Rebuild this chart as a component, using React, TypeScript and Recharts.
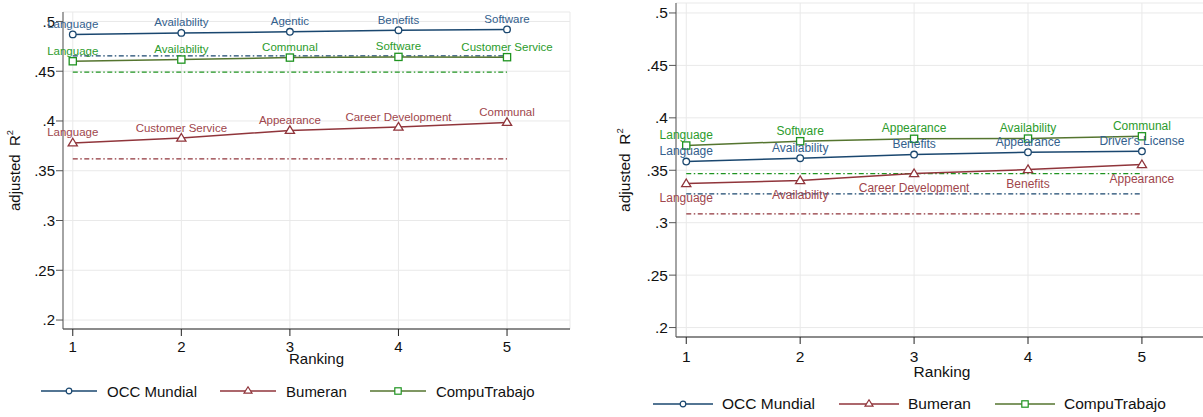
import { CartesianGrid, LabelList, Legend, Line, LineChart, XAxis, YAxis } from "recharts";

const FONT = "'Liberation Sans', Arial, Helvetica, sans-serif";

const NAVY = "#1a476f";
const NAVY_TXT = "#33608d";
const MAROON = "#90353b";
const MAROON_TXT = "#a0464c";
const OLIVE = "#55752f";
const GREEN = "#1f9420";
const GREEN_TXT = "#2c9c2c";

const ranking = [1, 2, 3, 4, 5];
const yTicks = [0.2, 0.25, 0.3, 0.35, 0.4, 0.45, 0.5];
const seriesNames = ["OCC Mundial", "Bumeran", "CompuTrabajo"];

// left panel
const occLeft = [0.487, 0.4885, 0.4896, 0.4912, 0.492];
const bumLeft = [0.378, 0.3828, 0.3905, 0.3939, 0.3986];
const compLeft = [0.46, 0.4617, 0.4637, 0.4644, 0.4641];
const occLeftLabels = ["Language", "Availability", "Agentic", "Benefits", "Software"];
const bumLeftLabels = ["Language", "Customer Service", "Appearance", "Career Development", "Communal"];
const compLeftLabels = ["Language", "Availability", "Communal", "Software", "Customer Service"];
const occLeftBase = 0.4654;
const bumLeftBase = 0.362;
const compLeftBase = 0.449;

// right panel
const occRight = [0.3583, 0.3615, 0.365, 0.3672, 0.3681];
const bumRight = [0.3373, 0.3402, 0.3468, 0.3507, 0.3554];
const compRight = [0.3736, 0.3777, 0.38, 0.3802, 0.3824];
const occRightLabels = ["Language", "Availability", "Benefits", "Appearance", "Driver's License"];
const bumRightLabels = ["Language", "Availability", "Career Development", "Benefits", "Appearance"];
const compRightLabels = ["Language", "Software", "Appearance", "Availability", "Communal"];
const occRightBase = 0.3275;
const bumRightBase = 0.3084;
const compRightBase = 0.3468;

function buildRows(
  occ: number[], bum: number[], comp: number[],
  occLab: string[], bumLab: string[], compLab: string[],
  occBase: number, bumBase: number, compBase: number
) {
  return ranking.map((r, i) => ({
    rank: r,
    occ: occ[i], bum: bum[i], comp: comp[i],
    occLabel: occLab[i], bumLabel: bumLab[i], compLabel: compLab[i],
    occBase, bumBase, compBase,
  }));
}

const leftRows = buildRows(occLeft, bumLeft, compLeft, occLeftLabels, bumLeftLabels, compLeftLabels, occLeftBase, bumLeftBase, compLeftBase);
const rightRows = buildRows(occRight, bumRight, compRight, occRightLabels, bumRightLabels, compRightLabels, occRightBase, bumRightBase, compRightBase);

const fmt = (v: number) => String(v).replace(/^0/, "");
const DASHDOT = "5 2.5 1.5 2.5";

const circleDot = (color: string) => (p: any) => (
  <circle key={`c-${p.index}`} cx={p.cx} cy={p.cy} r={3.3} fill="#fff" stroke={color} strokeWidth={1.3} />
);
const triangleDot = (color: string) => (p: any) => (
  <path
    key={`t-${p.index}`}
    d={`M${p.cx},${p.cy - 4.6} L${p.cx + 4.6},${p.cy + 3} L${p.cx - 4.6},${p.cy + 3} Z`}
    fill="#fff"
    stroke={color}
    strokeWidth={1.3}
  />
);
const squareDot = (color: string) => (p: any) => (
  <rect key={`s-${p.index}`} x={p.cx - 3.6} y={p.cy - 3.6} width={7.2} height={7.2} fill="#fff" stroke={color} strokeWidth={1.3} />
);

const pointLabel = (color: string, size: number, dy: number) => (props: any) => {
  const x = props.x ?? props.viewBox?.x;
  const y = props.y ?? props.viewBox?.y;
  if (props.value == null || x == null) return null;
  return (
    <text x={x} y={y + dy} textAnchor="middle" fill={color} fontSize={size} fontFamily={FONT}>
      {props.value}
    </text>
  );
};

const yTitle = (cx: number, size: number) => (props: any) => {
  const vb = props.viewBox;
  const cy = vb.y + vb.height / 2;
  return (
    <text
      transform={`translate(${cx},${cy}) rotate(-90)`}
      textAnchor="middle"
      fontSize={size}
      fontFamily={FONT}
      fill="#111"
      style={{ whiteSpace: "pre" }}
    >
      {"adjusted  R"}
      <tspan dy={-7} fontSize={size * 0.62}>2</tspan>
    </text>
  );
};

const xTitle = (dy: number, size: number) => (props: any) => {
  const vb = props.viewBox;
  return (
    <text x={vb.x + vb.width / 2} y={vb.y + dy} textAnchor="middle" fontSize={size} fontFamily={FONT} fill="#111">
      Ranking
    </text>
  );
};

const legendSample = (i: number, w: number) => {
  const c = w / 2;
  if (i === 0)
    return (
      <svg width={w} height={12}>
        <line x1={0} y1={6} x2={w} y2={6} stroke={NAVY} strokeWidth={1.5} />
        <circle cx={c} cy={6} r={2.8} fill="#fff" stroke={NAVY} strokeWidth={1.2} />
      </svg>
    );
  if (i === 1)
    return (
      <svg width={w} height={12}>
        <line x1={0} y1={6} x2={w} y2={6} stroke={MAROON} strokeWidth={1.5} />
        <path d={`M${c},${1.8} L${c + 4},${8.2} L${c - 4},${8.2} Z`} fill="#fff" stroke={MAROON} strokeWidth={1.2} />
      </svg>
    );
  return (
    <svg width={w} height={12}>
      <line x1={0} y1={6} x2={w} y2={6} stroke={OLIVE} strokeWidth={1.5} />
      <rect x={c - 3.2} y={2.8} width={6.4} height={6.4} fill="#fff" stroke={GREEN} strokeWidth={1.2} />
    </svg>
  );
};

const legendContent = (start: number, sample: number, gap: number, spacing: number, size: number) => () => (
  <div style={{ display: "flex", alignItems: "center", height: 20, paddingLeft: start, fontFamily: FONT, fontSize: size, color: "#111" }}>
    {seriesNames.map((name, i) => (
      <div key={name} style={{ display: "flex", alignItems: "center", marginRight: spacing }}>
        {legendSample(i, sample)}
        <span style={{ marginLeft: gap, whiteSpace: "nowrap" }}>{name}</span>
      </div>
    ))}
  </div>
);

function Panel({
  rows, width, margin, yAxisWidth, xTickMargin, fontSize, labelSize, titleX, rankingDy,
  bumBelow, legendTop, legend,
}: {
  rows: any[]; width: number; margin: any; yAxisWidth: number; xTickMargin: number; fontSize: number;
  labelSize: number; titleX: number; rankingDy: number; bumBelow: boolean; legendTop: number;
  legend: { start: number; sample: number; gap: number; spacing: number };
}) {
  const tick = { fill: "#111", fontSize, fontFamily: FONT };
  return (
    <LineChart width={width} height={417} data={rows} margin={margin}>
      <CartesianGrid stroke="#e9e9e9" strokeWidth={1} />
      <XAxis
        dataKey="rank"
        type="number"
        domain={[0.91, 5.58]}
        ticks={ranking}
        allowDataOverflow
        height={40}
        tick={tick}
        tickSize={7}
        tickMargin={xTickMargin}
        stroke="#222"
        label={{ content: xTitle(rankingDy, fontSize) }}
      />
      <YAxis
        type="number"
        domain={[0.191, 0.5095]}
        ticks={yTicks}
        allowDataOverflow
        width={yAxisWidth}
        tick={tick}
        tickFormatter={fmt}
        tickSize={7}
        tickMargin={1}
        stroke="#555"
        label={{ content: yTitle(titleX, fontSize) }}
      />
      <Line dataKey="occBase" stroke={NAVY} strokeWidth={1.3} strokeDasharray={DASHDOT} dot={false} activeDot={false} isAnimationActive={false} />
      <Line dataKey="bumBase" stroke={MAROON} strokeWidth={1.3} strokeDasharray={DASHDOT} dot={false} activeDot={false} isAnimationActive={false} />
      <Line dataKey="compBase" stroke={GREEN} strokeWidth={1.3} strokeDasharray={DASHDOT} dot={false} activeDot={false} isAnimationActive={false} />
      <Line dataKey="occ" stroke={NAVY} strokeWidth={1.5} dot={circleDot(NAVY)} activeDot={false} isAnimationActive={false}>
        <LabelList dataKey="occLabel" content={pointLabel(NAVY_TXT, labelSize, -6.5)} />
      </Line>
      <Line dataKey="bum" stroke={MAROON} strokeWidth={1.5} dot={triangleDot(MAROON)} activeDot={false} isAnimationActive={false}>
        <LabelList dataKey="bumLabel" content={pointLabel(MAROON_TXT, labelSize, bumBelow ? 18 : -6.5)} />
      </Line>
      <Line dataKey="comp" stroke={OLIVE} strokeWidth={1.5} dot={squareDot(GREEN)} activeDot={false} isAnimationActive={false}>
        <LabelList dataKey="compLabel" content={pointLabel(GREEN_TXT, labelSize, -6.5)} />
      </Line>
      <Legend
        layout="horizontal"
        verticalAlign="middle"
        align="center"
        wrapperStyle={{ top: legendTop, left: 0, width, height: 20 }}
        content={legendContent(legend.start, legend.sample, legend.gap, legend.spacing, fontSize)}
      />
    </LineChart>
  );
}

export default function App() {
  return (
    <div style={{ position: "absolute", left: 0, top: 0, width: 1203, height: 417, overflow: "hidden", background: "#fff" }}>
      <div style={{ position: "absolute", left: 0, top: 0 }}>
        <Panel
          rows={leftRows}
          width={595}
          margin={{ top: 12, right: 25, left: 13, bottom: 48 }}
          yAxisWidth={50}
          xTickMargin={5}
          fontSize={15}
          labelSize={11.5}
          titleX={20}
          rankingDy={35}
          bumBelow={false}
          legendTop={381}
          legend={{ start: 41, sample: 56, gap: 10, spacing: 23 }}
        />
      </div>
      <div style={{ position: "absolute", left: 600, top: 0 }}>
        <Panel
          rows={rightRows}
          width={608}
          margin={{ top: 3, right: 0, left: 20, bottom: 40 }}
          yAxisWidth={56}
          xTickMargin={7}
          fontSize={15.5}
          labelSize={12}
          titleX={30}
          rankingDy={40}
          bumBelow={true}
          legendTop={394}
          legend={{ start: 53, sample: 60, gap: 9, spacing: 24 }}
        />
      </div>
    </div>
  );
}
